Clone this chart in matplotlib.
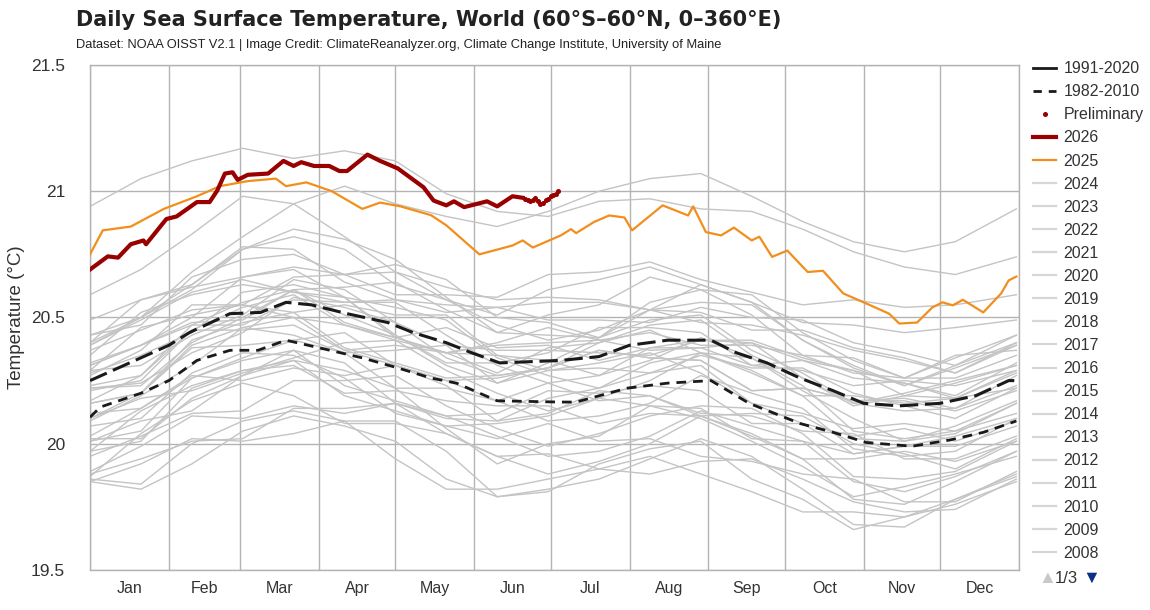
import matplotlib
matplotlib.use("Agg")
import matplotlib.pyplot as plt
from matplotlib.lines import Line2D
from matplotlib.ticker import FuncFormatter, FixedLocator

plt.rcParams["font.family"] = ["Liberation Sans", "DejaVu Sans"]

# ---- data (day of year -> °C) ----
month_starts = [0, 31, 59, 90, 120, 151, 181, 212, 243, 273, 304, 334, 365]
month_names = ["Jan", "Feb", "Mar", "Apr", "May", "Jun",
               "Jul", "Aug", "Sep", "Oct", "Nov", "Dec"]

mean_9120_days = [0, 31, 39, 55, 67, 77, 87, 101, 117, 127, 140, 150, 161, 185,
                  200, 212, 227, 244, 254, 266, 279, 292, 304, 318, 334, 348, 361, 364]
mean_9120 = [20.25, 20.39, 20.44, 20.515, 20.52, 20.56, 20.55, 20.515, 20.48, 20.44,
             20.40, 20.36, 20.32, 20.33, 20.345, 20.39, 20.41, 20.41, 20.36, 20.32,
             20.26, 20.21, 20.16, 20.15, 20.16, 20.19, 20.25, 20.25]

mean_8210_days = [0, 4, 20, 31, 42, 55, 66, 77, 90, 107, 121, 134, 144, 160, 185,
                  191, 211, 227, 244, 259, 279, 292, 305, 323, 338, 351, 364]
mean_8210 = [20.105, 20.145, 20.20, 20.25, 20.33, 20.37, 20.37, 20.41, 20.38, 20.34,
             20.30, 20.26, 20.24, 20.17, 20.165, 20.165, 20.22, 20.24, 20.25, 20.16,
             20.08, 20.045, 20.005, 19.99, 20.015, 20.045, 20.09]

y2025_days = [0, 5, 16, 29, 42, 51, 62, 73, 77, 85, 95, 107, 114, 122, 134, 140, 153,
              166, 170, 174, 185, 189, 191, 198, 204, 210, 213, 225, 235, 237, 242,
              248, 253, 260, 263, 268, 274, 282, 288, 296, 304, 314, 318, 325, 331,
              335, 339, 343, 351, 358, 361, 364]
y2025 = [20.75, 20.845, 20.86, 20.93, 20.98, 21.02, 21.04, 21.05, 21.02, 21.035,
         21.00, 20.93, 20.955, 20.94, 20.905, 20.865, 20.75, 20.785, 20.805, 20.777,
         20.825, 20.85, 20.834, 20.878, 20.904, 20.896, 20.845, 20.944, 20.904, 20.94,
         20.838, 20.825, 20.856, 20.805, 20.82, 20.74, 20.765, 20.68, 20.685, 20.595,
         20.56, 20.515, 20.476, 20.48, 20.54, 20.56, 20.548, 20.57, 20.52, 20.595,
         20.647, 20.662]

y2026_days = [0, 7, 11, 16, 21, 22, 30, 34, 42, 47, 50, 53, 56, 58, 62, 70, 76, 80,
              83, 88, 94, 98, 101, 109, 114, 121, 123, 131, 135, 140, 143, 147, 156,
              160, 166, 170]
y2026 = [20.69, 20.742, 20.737, 20.79, 20.805, 20.79, 20.89, 20.90, 20.957, 20.957,
         21.003, 21.07, 21.075, 21.045, 21.065, 21.07, 21.12, 21.10, 21.115, 21.10,
         21.10, 21.08, 21.08, 21.145, 21.12, 21.09, 21.075, 21.016, 20.963, 20.944,
         20.96, 20.937, 20.96, 20.94, 20.98, 20.974]

prelim_days = [171, 172, 173, 174, 175, 176, 177, 178, 179, 180, 181, 182, 183, 184]
prelim = [20.97, 20.965, 20.96, 20.965, 20.975, 20.96, 20.95, 20.955, 20.965, 20.97,
          20.98, 20.985, 20.99, 21.00]

gray_days = [0, 20, 40, 60, 80, 100, 120, 140, 160, 180, 200, 220, 240, 260, 280,
             300, 320, 340, 364]
sst_1982 = [19.85, 19.92, 20.02, 20.01, 20.04, 20.09, 20.09, 19.97, 19.79, 19.82, 19.86, 19.94, 20.02, 19.95, 19.82, 19.68, 19.67, 19.78, 19.87]
sst_1983 = [19.87, 20.04, 20.17, 20.24, 20.19, 20.08, 20.08, 20.04, 19.95, 19.96, 19.90, 19.88, 19.93, 19.94, 19.86, 19.77, 19.73, 19.74, 19.86]
sst_1984 = [19.86, 19.84, 20.00, 20.09, 20.13, 20.09, 19.94, 19.82, 19.82, 19.86, 19.90, 19.95, 19.88, 19.81, 19.73, 19.73, 19.71, 19.76, 19.85]
sst_1985 = [19.85, 19.82, 19.92, 20.05, 20.11, 20.07, 20.01, 19.86, 19.79, 19.81, 19.92, 19.98, 20.01, 19.86, 19.78, 19.66, 19.71, 19.78, 19.88]
sst_1986 = [19.88, 19.94, 20.01, 20.02, 20.14, 20.14, 20.16, 20.04, 19.95, 19.88, 19.93, 20.00, 20.11, 20.03, 19.94, 19.78, 19.76, 19.85, 19.97]
sst_1987 = [19.97, 20.01, 20.22, 20.29, 20.33, 20.19, 20.13, 20.07, 20.08, 20.11, 20.18, 20.15, 20.14, 20.02, 20.01, 19.96, 19.99, 19.99, 20.07]
sst_1988 = [20.07, 20.10, 20.28, 20.36, 20.35, 20.26, 20.12, 20.07, 20.02, 20.08, 20.01, 20.02, 19.95, 19.93, 19.88, 19.86, 19.77, 19.77, 19.89]
sst_1989 = [19.89, 19.99, 20.11, 20.10, 20.15, 20.12, 20.16, 20.11, 20.03, 19.95, 19.97, 20.03, 20.13, 20.07, 20.01, 19.85, 19.81, 19.87, 19.97]
sst_1990 = [19.97, 20.13, 20.23, 20.29, 20.31, 20.20, 20.21, 20.17, 20.15, 20.15, 20.08, 20.12, 20.11, 20.12, 20.11, 20.00, 19.96, 19.90, 20.02]
sst_1991 = [20.02, 20.02, 20.18, 20.27, 20.37, 20.32, 20.16, 20.10, 20.09, 20.12, 20.21, 20.19, 20.11, 20.04, 19.94, 19.94, 19.97, 19.93, 20.01]
sst_1992 = [20.01, 20.09, 20.13, 20.27, 20.33, 20.29, 20.22, 20.06, 19.92, 20.00, 20.03, 20.15, 20.10, 20.01, 19.91, 19.79, 19.83, 19.88, 19.95]
sst_1993 = [19.95, 20.03, 20.12, 20.13, 20.25, 20.25, 20.27, 20.15, 20.06, 19.99, 20.04, 20.11, 20.15, 20.14, 20.04, 19.87, 19.86, 19.89, 20.01]
sst_1994 = [20.01, 20.05, 20.26, 20.33, 20.37, 20.23, 20.17, 20.11, 20.12, 20.21, 20.20, 20.23, 20.21, 20.08, 20.08, 20.03, 20.06, 20.01, 20.09]
sst_1995 = [20.09, 20.19, 20.31, 20.46, 20.43, 20.36, 20.22, 20.22, 20.17, 20.24, 20.17, 20.19, 20.12, 20.11, 20.05, 20.04, 19.94, 19.94, 20.03]
sst_1996 = [20.03, 20.14, 20.27, 20.25, 20.30, 20.27, 20.31, 20.25, 20.17, 20.09, 20.11, 20.16, 20.27, 20.20, 20.14, 19.98, 19.95, 19.97, 20.10]
sst_1997 = [20.10, 20.20, 20.38, 20.39, 20.41, 20.36, 20.37, 20.39, 20.37, 20.37, 20.36, 20.35, 20.41, 20.41, 20.34, 20.29, 20.24, 20.19, 20.32]
sst_1998 = [20.32, 20.39, 20.50, 20.66, 20.69, 20.58, 20.43, 20.31, 20.24, 20.29, 20.32, 20.36, 20.28, 20.16, 20.12, 20.06, 20.08, 20.05, 20.12]
sst_1999 = [20.12, 20.14, 20.26, 20.34, 20.41, 20.44, 20.31, 20.23, 20.09, 20.18, 20.22, 20.28, 20.31, 20.16, 20.08, 19.96, 19.99, 20.03, 20.10]
sst_2000 = [20.10, 20.18, 20.21, 20.28, 20.34, 20.40, 20.41, 20.29, 20.20, 20.13, 20.18, 20.25, 20.36, 20.28, 20.19, 20.02, 20.01, 20.04, 20.16]
sst_2001 = [20.16, 20.20, 20.41, 20.48, 20.52, 20.38, 20.32, 20.26, 20.27, 20.30, 20.37, 20.34, 20.33, 20.21, 20.22, 20.17, 20.18, 20.14, 20.23]
sst_2002 = [20.23, 20.27, 20.47, 20.56, 20.61, 20.48, 20.42, 20.36, 20.39, 20.40, 20.41, 20.37, 20.38, 20.31, 20.33, 20.26, 20.24, 20.18, 20.29]
sst_2003 = [20.29, 20.46, 20.51, 20.55, 20.52, 20.55, 20.51, 20.51, 20.35, 20.33, 20.27, 20.38, 20.41, 20.40, 20.26, 20.16, 20.13, 20.14, 20.27]
sst_2004 = [20.27, 20.37, 20.55, 20.55, 20.50, 20.47, 20.42, 20.46, 20.38, 20.39, 20.33, 20.38, 20.38, 20.40, 20.33, 20.29, 20.19, 20.18, 20.28]
sst_2005 = [20.28, 20.35, 20.44, 20.60, 20.63, 20.58, 20.42, 20.36, 20.28, 20.38, 20.40, 20.45, 20.36, 20.29, 20.19, 20.19, 20.16, 20.18, 20.22]
sst_2006 = [20.22, 20.24, 20.36, 20.44, 20.58, 20.54, 20.48, 20.34, 20.27, 20.30, 20.40, 20.47, 20.49, 20.35, 20.26, 20.15, 20.19, 20.24, 20.31]
sst_2007 = [20.31, 20.39, 20.47, 20.47, 20.57, 20.56, 20.56, 20.43, 20.31, 20.24, 20.27, 20.33, 20.42, 20.34, 20.23, 20.05, 20.02, 20.05, 20.16]
sst_2008 = [20.16, 20.20, 20.39, 20.46, 20.50, 20.37, 20.31, 20.25, 20.26, 20.30, 20.37, 20.34, 20.33, 20.21, 20.22, 20.17, 20.17, 20.13, 20.21]
sst_2009 = [20.21, 20.25, 20.45, 20.54, 20.59, 20.47, 20.41, 20.36, 20.40, 20.46, 20.41, 20.44, 20.39, 20.39, 20.35, 20.34, 20.26, 20.26, 20.35]
sst_2010 = [20.35, 20.52, 20.59, 20.63, 20.60, 20.58, 20.54, 20.49, 20.34, 20.27, 20.22, 20.32, 20.36, 20.34, 20.21, 20.10, 20.01, 20.07, 20.17]
sst_2011 = [20.17, 20.27, 20.45, 20.45, 20.47, 20.37, 20.39, 20.36, 20.35, 20.29, 20.30, 20.28, 20.35, 20.30, 20.30, 20.20, 20.15, 20.10, 20.22]
sst_2012 = [20.22, 20.23, 20.40, 20.50, 20.61, 20.51, 20.43, 20.32, 20.32, 20.36, 20.46, 20.46, 20.44, 20.31, 20.29, 20.23, 20.25, 20.23, 20.29]
sst_2013 = [20.29, 20.31, 20.43, 20.51, 20.65, 20.61, 20.48, 20.39, 20.24, 20.32, 20.42, 20.49, 20.51, 20.37, 20.28, 20.16, 20.20, 20.25, 20.31]
sst_2014 = [20.31, 20.39, 20.48, 20.49, 20.61, 20.62, 20.64, 20.53, 20.44, 20.43, 20.42, 20.56, 20.61, 20.59, 20.44, 20.33, 20.26, 20.34, 20.43]
sst_2015 = [20.43, 20.47, 20.66, 20.73, 20.75, 20.67, 20.59, 20.59, 20.58, 20.67, 20.68, 20.72, 20.65, 20.60, 20.55, 20.57, 20.54, 20.55, 20.59]
sst_2016 = [20.59, 20.69, 20.83, 20.98, 20.95, 20.82, 20.68, 20.62, 20.57, 20.58, 20.57, 20.53, 20.52, 20.45, 20.45, 20.38, 20.34, 20.28, 20.40]
sst_2017 = [20.40, 20.57, 20.62, 20.66, 20.70, 20.67, 20.71, 20.65, 20.50, 20.48, 20.42, 20.53, 20.56, 20.55, 20.41, 20.31, 20.23, 20.30, 20.39]
sst_2018 = [20.39, 20.49, 20.60, 20.65, 20.60, 20.56, 20.57, 20.55, 20.54, 20.49, 20.49, 20.48, 20.54, 20.50, 20.49, 20.40, 20.36, 20.31, 20.43]
sst_2019 = [20.43, 20.50, 20.61, 20.77, 20.82, 20.77, 20.63, 20.57, 20.51, 20.61, 20.65, 20.70, 20.63, 20.56, 20.48, 20.47, 20.44, 20.46, 20.49]
sst_2020 = [20.49, 20.57, 20.63, 20.77, 20.85, 20.81, 20.73, 20.58, 20.44, 20.51, 20.55, 20.66, 20.61, 20.51, 20.35, 20.28, 20.26, 20.35, 20.37]
sst_2021 = [20.37, 20.45, 20.53, 20.55, 20.66, 20.67, 20.68, 20.57, 20.47, 20.41, 20.45, 20.53, 20.63, 20.56, 20.41, 20.30, 20.23, 20.31, 20.40]
sst_2022 = [20.40, 20.50, 20.63, 20.78, 20.77, 20.64, 20.57, 20.52, 20.54, 20.56, 20.56, 20.53, 20.48, 20.47, 20.43, 20.37, 20.33, 20.28, 20.39]
sst_2023 = [20.39, 20.50, 20.68, 20.82, 20.95, 21.02, 20.95, 20.90, 20.86, 20.92, 21.00, 21.05, 21.07, 20.98, 20.88, 20.80, 20.76, 20.80, 20.93]
sst_2024 = [20.94, 21.05, 21.12, 21.17, 21.13, 21.16, 21.12, 20.99, 20.92, 20.90, 20.96, 20.97, 20.93, 20.92, 20.85, 20.76, 20.70, 20.67, 20.74]

gray_series = {
    1982: sst_1982, 1983: sst_1983, 1984: sst_1984, 1985: sst_1985, 1986: sst_1986,
    1987: sst_1987, 1988: sst_1988, 1989: sst_1989, 1990: sst_1990, 1991: sst_1991,
    1992: sst_1992, 1993: sst_1993, 1994: sst_1994, 1995: sst_1995, 1996: sst_1996,
    1997: sst_1997, 1998: sst_1998, 1999: sst_1999, 2000: sst_2000, 2001: sst_2001,
    2002: sst_2002, 2003: sst_2003, 2004: sst_2004, 2005: sst_2005, 2006: sst_2006,
    2007: sst_2007, 2008: sst_2008, 2009: sst_2009, 2010: sst_2010, 2011: sst_2011,
    2012: sst_2012, 2013: sst_2013, 2014: sst_2014, 2015: sst_2015, 2016: sst_2016,
    2017: sst_2017, 2018: sst_2018, 2019: sst_2019, 2020: sst_2020, 2021: sst_2021,
    2022: sst_2022, 2023: sst_2023, 2024: sst_2024,
}

GRAY = "#c4c4c4"
ORANGE = "#f28e1c"
DARKRED = "#990000"
GRID = "#b3b3b3"

fig = plt.figure(figsize=(11.5, 6.1), dpi=100)
ax = fig.add_axes([0.0783, 0.0656, 0.8077, 0.8279])

for yr, vals in gray_series.items():
    ax.plot(gray_days, vals, color=GRAY, lw=1.0, zorder=2)

ax.plot(mean_8210_days, mean_8210, color="#1a1a1a", lw=2.0,
        dashes=(3.5, 2.5), zorder=4)
ax.plot(mean_9120_days, mean_9120, color="#1a1a1a", lw=2.2,
        dashes=(6, 2.2), zorder=4)
ax.plot(y2025_days, y2025, color=ORANGE, lw=1.6, zorder=5)
ax.plot(y2026_days, y2026, color=DARKRED, lw=3.0, zorder=6)
ax.plot(prelim_days, prelim, ls="none", marker="o", ms=2.6, color=DARKRED,
        zorder=6)

ax.set_xlim(0, 365)
ax.set_ylim(19.5, 21.5)
ax.set_yticks([19.5, 20, 20.5, 21, 21.5])
ax.yaxis.set_major_formatter(FuncFormatter(lambda v, p: f"{v:g}"))
ax.xaxis.set_major_locator(FixedLocator(month_starts))
ax.xaxis.set_major_formatter(FuncFormatter(lambda v, p: ""))
mids = [(a + b) / 2 for a, b in zip(month_starts[:-1], month_starts[1:])]
ax.xaxis.set_minor_locator(FixedLocator(mids))
ax.set_xticklabels(month_names, minor=True)
ax.tick_params(axis="x", which="both", length=0, pad=8, labelsize=11.5,
               labelcolor="#333333")
ax.tick_params(axis="y", length=0, pad=18, labelsize=12.5, labelcolor="#333333")
ax.grid(True, which="major", color=GRID, lw=1.0, zorder=1)
for sp in ax.spines.values():
    sp.set_color(GRID)
    sp.set_linewidth(1.0)
ax.set_ylabel("Temperature (°C)", fontsize=13.5, color="#333333", labelpad=4)

fig.text(0.066, 0.967, "Daily Sea Surface Temperature, World (60°S–60°N, 0–360°E)",
         fontsize=15, fontweight="bold", color="#222222", va="center",
         family=["DejaVu Sans"])
fig.text(0.066, 0.926, "Dataset: NOAA OISST V2.1 | Image Credit: ClimateReanalyzer.org, "
         "Climate Change Institute, University of Maine",
         fontsize=9.3, color="#222222", va="center")

handles = [
    Line2D([], [], color="#1a1a1a", lw=2.0),
    Line2D([], [], color="#1a1a1a", lw=2.0, dashes=(3, 2.5)),
    Line2D([], [], ls="none", marker="o", ms=2.6, color=DARKRED),
    Line2D([], [], color=DARKRED, lw=3.0),
    Line2D([], [], color=ORANGE, lw=1.6),
]
labels = ["1991-2020", "1982-2010", "Preliminary", "2026", "2025"]
for yr in range(2024, 2007, -1):
    handles.append(Line2D([], [], color="#d6d6d6", lw=1.6))
    labels.append(str(yr))

leg = fig.legend(handles, labels, loc="upper left", bbox_to_anchor=(0.893, 0.91),
                 frameon=False, fontsize=11.5, handlelength=1.4, handletextpad=0.5,
                 labelspacing=0.505, borderaxespad=0)
for t in leg.get_texts():
    t.set_color("#333333")

fig.text(0.903, 0.052, "▲", fontsize=13, color="#c8c8c8", va="center")
fig.text(0.917, 0.052, "1/3", fontsize=12, color="#333333", va="center")
fig.text(0.941, 0.052, "▼", fontsize=13, color="#0b2f8a", va="center")

fig.savefig("out.png", dpi=100)
